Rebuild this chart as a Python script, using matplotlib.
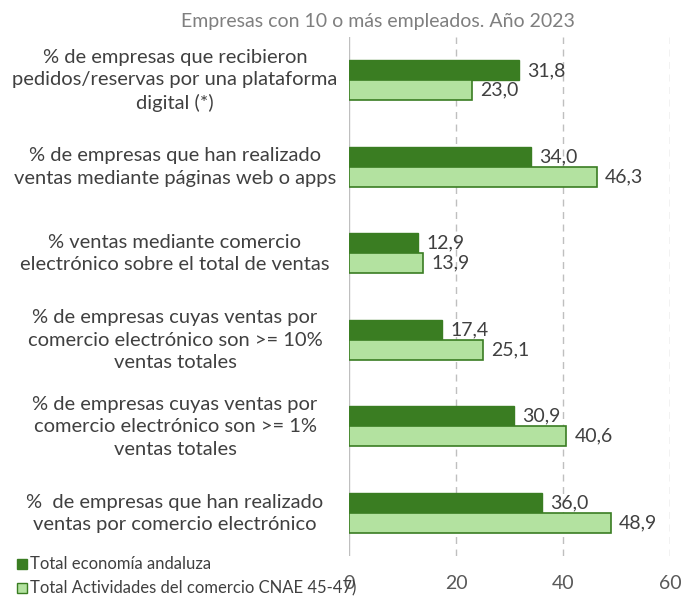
import matplotlib.pyplot as plt
import numpy as np

plt.rcParams['font.family'] = ['Lato', 'DejaVu Sans']

categories = [
    "% de empresas que recibieron\npedidos/reservas por una plataforma\ndigital (*)",
    "% de empresas que han realizado\nventas mediante páginas web o apps",
    "% ventas mediante comercio\nelectrónico sobre el total de ventas",
    "% de empresas cuyas ventas por\ncomercio electrónico son >= 10%\nventas totales",
    "% de empresas cuyas ventas por\ncomercio electrónico son >= 1%\nventas totales",
    "%  de empresas que han realizado\nventas por comercio electrónico",
]
andalucia = [31.8, 34.0, 12.9, 17.4, 30.9, 36.0]
comercio = [23.0, 46.3, 13.9, 25.1, 40.6, 48.9]
series_names = ["Total economía andaluza", "Total Actividades del comercio CNAE 45-47)"]

dark = "#3A7D22"
light = "#B3E2A0"

fig = plt.figure(figsize=(6.84, 5.99), dpi=100)
ax = fig.add_axes([0.510, 0.072, 0.470, 0.866])

y = np.arange(len(categories))
h = 0.23
b1 = ax.barh(y - h / 2, andalucia, height=h, color=dark, edgecolor=dark, linewidth=1)
b2 = ax.barh(y + h / 2, comercio, height=h, color=light, edgecolor=dark, linewidth=1.2)

for bars, vals in ((b1, andalucia), (b2, comercio)):
    for bar, v in zip(bars, vals):
        ax.text(bar.get_width() + 1.5, bar.get_y() + bar.get_height() / 2,
                f"{v:.1f}".replace(".", ","), va="center", ha="left",
                fontsize=14, color="#404040")

ax.set_xlim(0, 60)
ax.set_ylim(len(categories) - 0.5, -0.5)
ax.set_xticks([0, 20, 40, 60])
ax.tick_params(axis="x", length=0, labelsize=14, labelcolor="#595959", pad=14)
ax.set_yticks([])
for s in ax.spines.values():
    s.set_visible(False)
ax.axvline(0, color="#BFBFBF", linewidth=1, zorder=0)
for xv in (20, 40, 60):
    ax.axvline(xv, color="#BFBFBF", linewidth=1, linestyle=(0, (5, 4)), zorder=0)

for yi, cat in zip(y, categories):
    fig.text(175 / 684, 1 - (37 + 86.6 * (yi + 0.5)) / 599, cat, ha="center", va="center",
             fontsize=14.5, color="#404040", linespacing=1.38)

fig.text(378 / 684, 1 - 22 / 599, "Empresas con 10 o más empleados. Año 2023",
         ha="center", va="center", fontsize=14, color="#7F7F7F")

# legend
for i, (name, fc) in enumerate(zip(series_names, [dark, light])):
    yy = 1 - (564 + 24 * i) / 599
    fig.patches.append(plt.Rectangle((17 / 684, yy - 5 / 599), 10 / 684, 10 / 599,
                                     transform=fig.transFigure, facecolor=fc,
                                     edgecolor=dark, linewidth=1))
    fig.text(30 / 684, yy, name, ha="left", va="center", fontsize=12, color="#404040")

fig.savefig("out.png", dpi=100)
